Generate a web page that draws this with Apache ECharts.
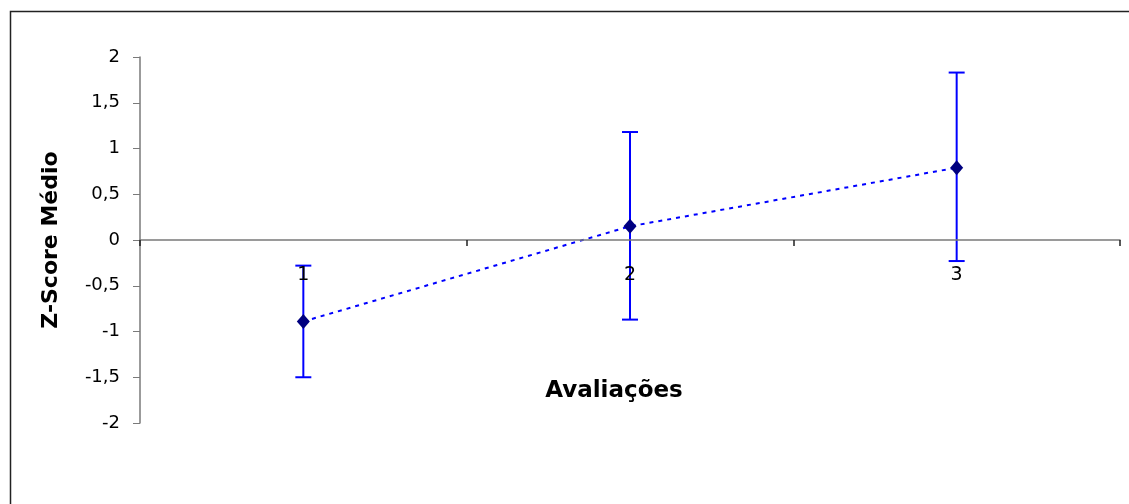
<!DOCTYPE html>
<html>
<head>
<meta charset="utf-8">
<script src="https://cdn.jsdelivr.net/npm/echarts@6/dist/echarts.min.js"></script>
<style>
html,body{margin:0;padding:0;background:#fff;}
#chart{width:1129px;height:504px;}
</style>
</head>
<body>
<div id="chart"></div>
<script>
const categories = ['1', '2', '3'];
const means = [-0.89, 0.15, 0.79];
const upper = [-0.28, 1.18, 1.83];
const lower = [-1.50, -0.87, -0.23];

const errData = categories.map((c, i) => [i, lower[i], upper[i]]);

const chart = echarts.init(document.getElementById('chart'), null, {renderer: 'canvas'});
const FONT = '"DejaVu Sans", "Liberation Sans", Arial, sans-serif';
const option = {
  animation: false,
  backgroundColor: '#fff',
  grid: {left: 140, right: 9, top: 57, bottom: 81, containLabel: false, outerBoundsMode: 'none'},
  graphic: [
    {type: 'rect', shape: {x: 10.5, y: 11.5, width: 1200, height: 600},
     style: {fill: 'none', stroke: '#222', lineWidth: 1.5}, z: -10, silent: true},
    {type: 'text', x: 51, y: 240, rotation: Math.PI / 2,
     style: {text: 'Z-Score Médio', font: 'bold 22px ' + FONT,
             fill: '#000', align: 'center', verticalAlign: 'middle'}},
    {type: 'text', x: 614, y: 391,
     style: {text: 'Avaliações', font: 'bold 23px ' + FONT,
             fill: '#000', align: 'center', verticalAlign: 'middle'}}
  ],
  xAxis: {
    type: 'category',
    data: categories,
    boundaryGap: true,
    z: 10,
    axisLine: {onZero: true, lineStyle: {color: '#7a7a7a', width: 1.5}},
    axisTick: {show: true, length: 6, inside: false, lineStyle: {color: '#222', width: 1.5}},
    axisLabel: {margin: -157, fontFamily: FONT, fontSize: 19, color: '#000'},
    splitLine: {show: false}
  },
  yAxis: {
    type: 'value',
    min: -2, max: 2, interval: 0.5,
    axisLine: {show: true, lineStyle: {color: '#7a7a7a', width: 1.5}},
    axisTick: {show: true, length: 7, lineStyle: {color: '#7a7a7a', width: 1}},
    axisLabel: {margin: 20, fontFamily: FONT, fontSize: 18, color: '#000',
      formatter: v => String(v).replace('.', ',')},
    splitLine: {show: false}
  },
  series: [
    {
      type: 'custom',
      data: errData,
      z: 3,
      renderItem: function (params, api) {
        const x = api.value(0);
        const lo = api.coord([x, api.value(1)]);
        const hi = api.coord([x, api.value(2)]);
        const hw = 8;
        const st = {stroke: '#0000ff', lineWidth: 2};
        return {
          type: 'group',
          children: [
            {type: 'line', shape: {x1: hi[0], y1: hi[1], x2: lo[0], y2: lo[1]}, style: st},
            {type: 'line', shape: {x1: hi[0] - hw, y1: hi[1], x2: hi[0] + hw, y2: hi[1]}, style: st},
            {type: 'line', shape: {x1: lo[0] - hw, y1: lo[1], x2: lo[0] + hw, y2: lo[1]}, style: st}
          ]
        };
      }
    },
    {
      type: 'line',
      data: means,
      z: 4,
      symbol: 'diamond',
      symbolSize: [13, 15],
      itemStyle: {color: '#000080'},
      lineStyle: {color: '#0000ff', width: 2, type: [4, 5]},
      showSymbol: true
    }
  ]
};
chart.setOption(option);
</script>
</body>
</html>
